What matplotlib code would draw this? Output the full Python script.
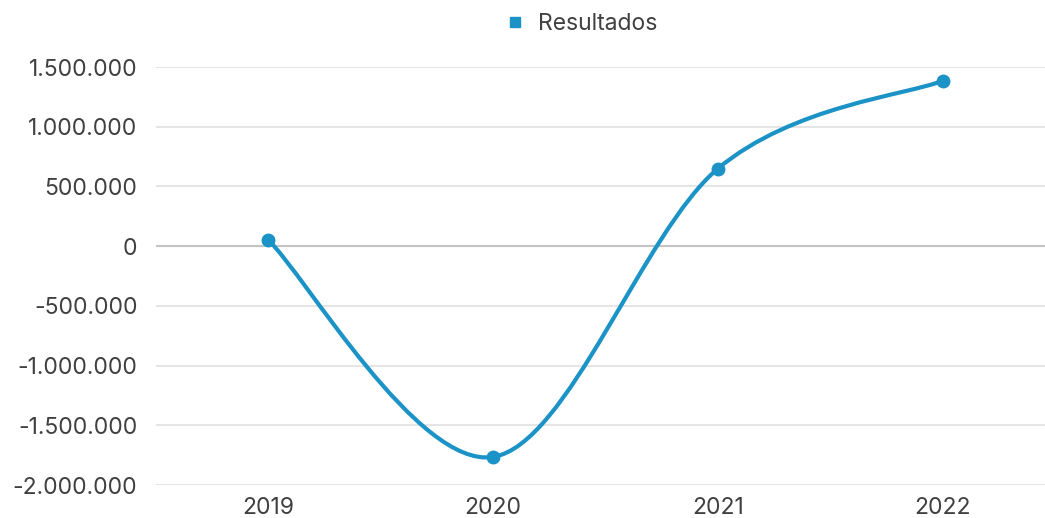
import matplotlib.pyplot as plt
import numpy as np
from matplotlib.path import Path
from matplotlib.patches import PathPatch
from matplotlib.ticker import FuncFormatter

plt.rcParams['font.family'] = ['Inter', 'DejaVu Sans']

anos = ["2019", "2020", "2021", "2022"]
resultados = [55000, -1765000, 650000, 1385000]
color = '#1b93c6'

W, H = 1045, 518
fig = plt.figure(figsize=(W / 100, H / 100), dpi=100)
ax = fig.add_axes([155.5 / W, (H - 485) / H, 900 / W, (485 - 67) / H])

x = np.arange(len(anos), dtype=float)
y = np.array(resultados, dtype=float)

# curva suavizada (bezier tipo catmull-rom)
verts = [(x[0], y[0])]
codes = [Path.MOVETO]
n = len(x)
for i in range(n - 1):
    p0 = np.array([x[max(i - 1, 0)], y[max(i - 1, 0)]])
    p1 = np.array([x[i], y[i]])
    p2 = np.array([x[i + 1], y[i + 1]])
    p3 = np.array([x[min(i + 2, n - 1)], y[min(i + 2, n - 1)]])
    c1 = p1 + (p2 - p0) / 6
    c2 = p2 - (p3 - p1) / 6
    verts += [tuple(c1), tuple(c2), tuple(p2)]
    codes += [Path.CURVE4] * 3
ax.add_patch(PathPatch(Path(verts, codes), facecolor='none', edgecolor=color,
                       lw=3, capstyle='round', clip_on=False, zorder=3))
ax.plot(x, y, 'o', color=color, markersize=9, clip_on=False, zorder=4)
ax.plot([], [], 's', color=color, markersize=7, label='Resultados')

ax.set_xlim(-0.5, 3.5)
ax.set_ylim(-2000000, 1500000)
ax.set_yticks(np.arange(-2000000, 1500001, 500000))
ax.yaxis.set_major_formatter(FuncFormatter(lambda v, p: f"{int(v):,}".replace(",", ".")))
ax.set_xticks(x)
ax.set_xticklabels(anos)
ax.grid(axis='y', color='#e0e0e0', lw=1.2)
ax.axhline(0, color='#c4c4c4', lw=1.5, zorder=1)
ax.set_axisbelow(True)
for s in ax.spines.values():
    s.set_visible(False)
ax.tick_params(length=0, labelsize=16.5, colors='#404040')
ax.tick_params(axis='y', pad=13)
ax.tick_params(axis='x', pad=9)

fig.legend(loc='center', bbox_to_anchor=(580 / W, 1 - 24 / H), frameon=False,
           fontsize=16.5, handletextpad=0.5, labelcolor='#404040', handlelength=1)

fig.savefig("out.png", dpi=100)
